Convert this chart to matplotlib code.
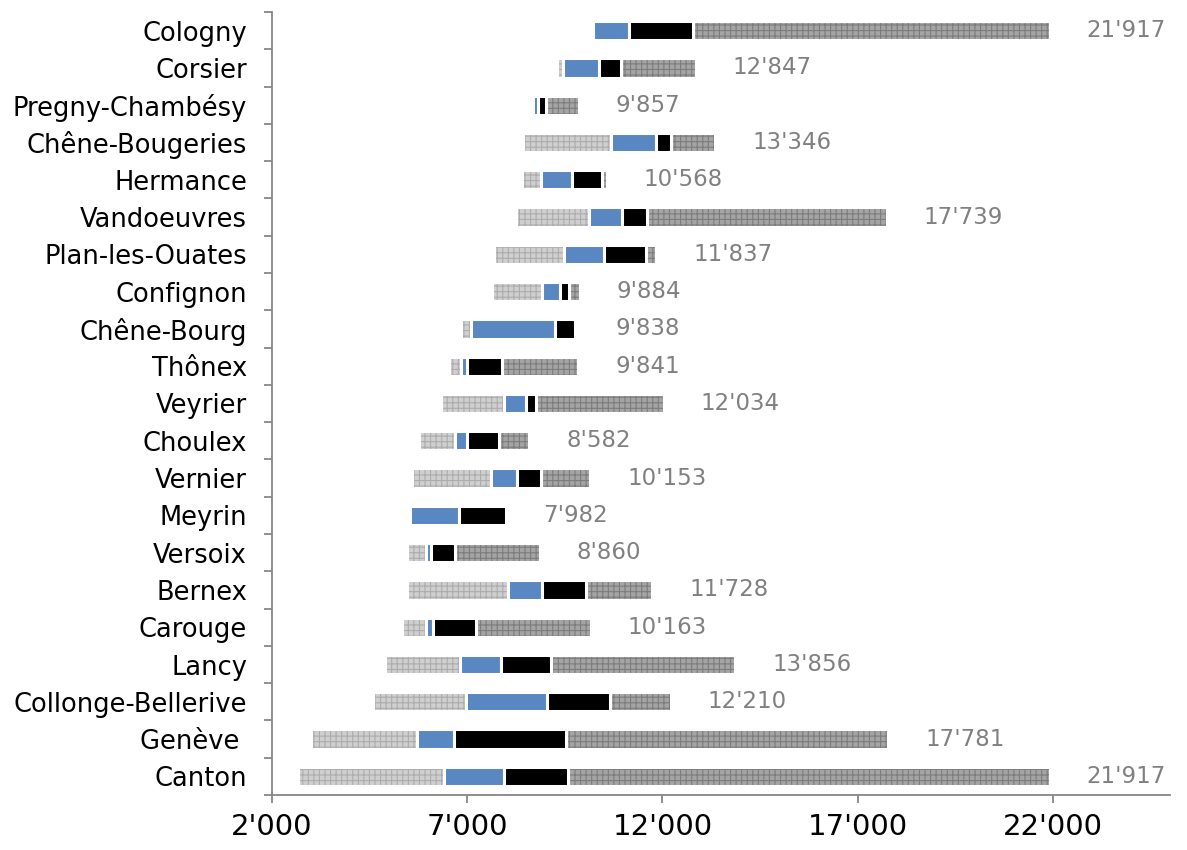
import numpy as np
import matplotlib.pyplot as plt
from matplotlib.ticker import FuncFormatter, FixedLocator

plt.rcParams['font.family'] = ['DejaVu Sans']
plt.rcParams['hatch.linewidth'] = 0.8

# communes, top to bottom
communes = ["Cologny", "Corsier", "Pregny-Chambésy", "Chêne-Bougeries", "Hermance",
            "Vandoeuvres", "Plan-les-Ouates", "Confignon", "Chêne-Bourg", "Thônex",
            "Veyrier", "Choulex", "Vernier", "Meyrin", "Versoix", "Bernex", "Carouge",
            "Lancy", "Collonge-Bellerive", "Genève ", "Canton"]

# minimum, quartiles and maximum per commune
v_min = [10210, 9290, 8675, 8420, 8405, 8255, 7690, 7640, 6845, 6540, 6320,
         5770, 5595, 5540, 5455, 5450, 5340, 4905, 4585, 3000, 2665]
v_q1 = [10210, 9440, 8675, 10685, 8900, 10125, 9475, 8925, 7090, 6840, 7950,
        6680, 7620, 5540, 5955, 8055, 5955, 6810, 6960, 5715, 6405]
v_med = [11145, 10375, 8815, 11845, 9690, 10955, 10510, 9365, 9255, 7000, 8515,
         6995, 8285, 6790, 6060, 8915, 6135, 7875, 9040, 6660, 7945]
v_q3 = [12780, 10950, 9010, 12215, 10455, 11610, 11585, 9615, 9765, 7900, 8770,
        7815, 8895, 7982, 6685, 10040, 7215, 9155, 10665, 9520, 9580]
v_max = [21917, 12847, 9857, 13346, 10568, 17739, 11837, 9884, 9838, 9841, 12034,
         8582, 10153, 7982, 8860, 11728, 10163, 13856, 12210, 17781, 21917]

v_min, v_q1, v_med, v_q3, v_max = map(np.array, (v_min, v_q1, v_med, v_q3, v_max))
y = np.arange(len(communes))

fig = plt.figure(figsize=(11.87, 8.5), dpi=100)
ax = fig.add_axes([0.2292, 0.0647, 0.7565, 0.9212])

h = 0.52
# light and dark dotted segments: hatch first, white outline on top
for lo, hi, face, hc in [(v_min, v_q1, '#cfcfcf', '#acacac'),
                         (v_q3, v_max, '#a4a4a4', '#7c7c7c')]:
    ax.barh(y, hi - lo, left=lo, height=h, color=face, edgecolor=hc,
            linewidth=0, hatch='+++')
    ax.barh(y, hi - lo, left=lo, height=h, fill=False, edgecolor='white',
            linewidth=2.2)
ax.barh(y, v_med - v_q1, left=v_q1, height=h, color='#5887c1',
        edgecolor='white', linewidth=2.2)
ax.barh(y, v_q3 - v_med, left=v_med, height=h, color='#000000',
        edgecolor='white', linewidth=2.2)

# max value labels
for yi, m in zip(y, v_max):
    ax.text(m + 950, yi, f"{m:,}".replace(',', "'"), va='center', ha='left',
            fontsize=16.5, color='#808080')

ax.set_xlim(2000, 25000)
ax.set_ylim(len(communes) - 0.5, -0.5)

ax.xaxis.set_major_locator(FixedLocator([2000, 7000, 12000, 17000, 22000]))
ax.xaxis.set_major_formatter(FuncFormatter(lambda v, p: f"{int(v):,}".replace(',', "'")))
ax.set_yticks(y)
ax.set_yticklabels(communes)
ax.yaxis.set_minor_locator(FixedLocator(np.arange(len(communes) + 1) - 0.5))

axis_grey = '#868686'
for side in ['top', 'right']:
    ax.spines[side].set_visible(False)
for side in ['left', 'bottom']:
    ax.spines[side].set_color(axis_grey)
    ax.spines[side].set_linewidth(1.3)

ax.tick_params(axis='x', which='major', direction='out', length=6, width=1.3,
               color=axis_grey, labelsize=21, pad=7)
ax.tick_params(axis='y', which='major', length=0, labelsize=18.5, pad=18)
ax.tick_params(axis='y', which='minor', direction='out', length=6, width=1.3,
               color=axis_grey)

fig.savefig("out.png", dpi=100)
